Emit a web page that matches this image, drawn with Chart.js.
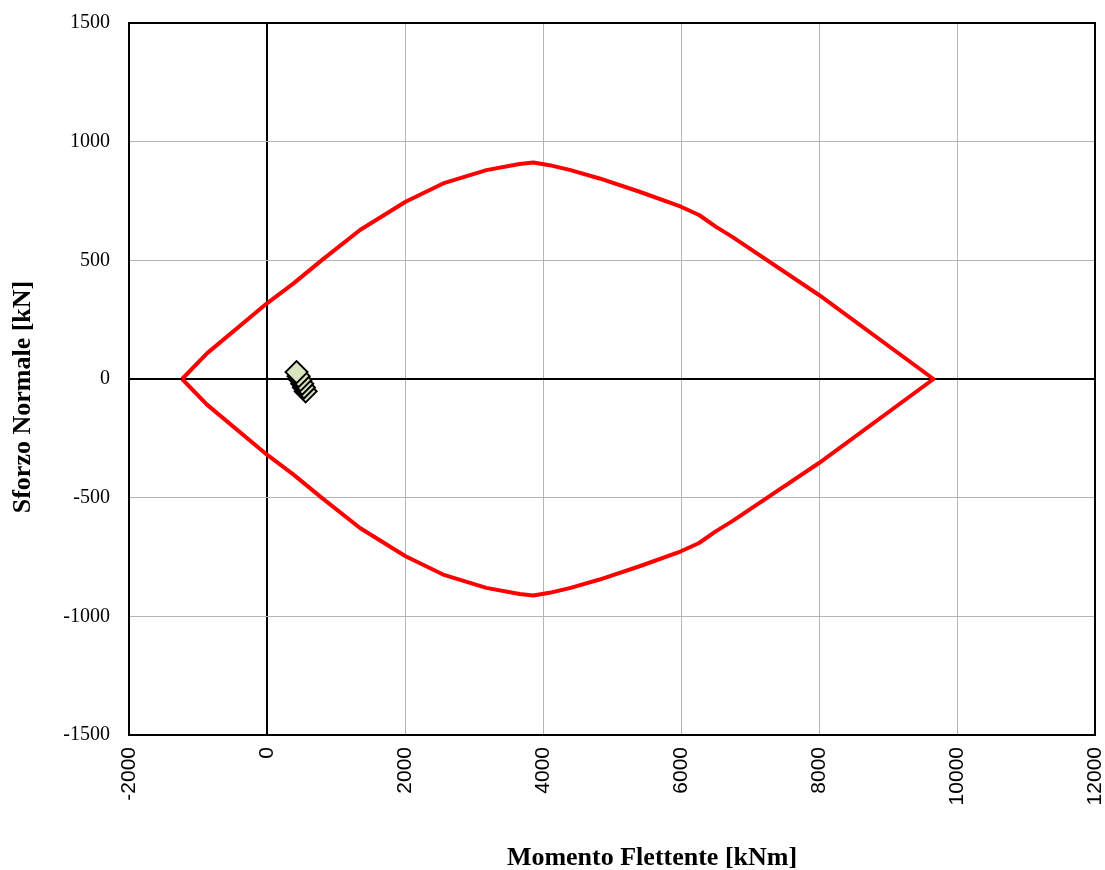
<!DOCTYPE html>
<html>
<head>
<meta charset="utf-8">
<script src="https://cdn.jsdelivr.net/npm/chart.js@4"></script>
<style>
  body { margin: 0; background: #fff; overflow: hidden; }
  #wrap { width: 1108px; height: 870px; }
</style>
</head>
<body>
<div id="wrap"><canvas id="chart"></canvas></div>
<script>
// Dominio di resistenza M-N: upper branch left to right, then lower branch back
const domainM = [-1230, -870, 0, 385, 795, 1348, 2008, 2552, 3179, 3660, 3860, 4094, 4400, 4820, 5400, 6000, 6262, 6503, 6744, 8000, 9660,
                 8000, 6744, 6503, 6262, 6000, 5400, 4820, 4400, 4094, 3860, 3660, 3179, 2552, 2008, 1348, 795, 385, 0, -870, -1230];
const domainN = [0, 108, 319, 403, 501, 628, 747, 824, 880, 906, 912, 901, 880, 845, 789, 726, 691, 642, 599, 354, 0,
                 -354, -599, -642, -691, -726, -789, -845, -880, -901, -912, -906, -880, -824, -747, -628, -501, -403, -319, -108, 0];

// Sollecitazioni di verifica (drawn bottom first so the top one lies above)
const loadM = [560, 535, 510, 485, 458, 428];
const loadN = [-52, -36, -20, -4, 12, 29];

const xTitle = 'Momento Flettente [kNm]';
const yTitle = 'Sforzo Normale [kN]';

const toPoints = (xs, ys) => xs.map((x, i) => ({ x: x, y: ys[i] }));

// frame round the plot area and the two axis titles
const framePlugin = {
    id: 'frame',
    afterDraw(chart) {
        const ctx = chart.ctx;
        const a = chart.chartArea;
        ctx.save();
        ctx.strokeStyle = '#000';
        ctx.lineWidth = 2;
        ctx.strokeRect(a.left, a.top, a.right - a.left, a.bottom - a.top);

        ctx.fillStyle = '#000';
        ctx.font = 'bold 26px "Liberation Serif", "Times New Roman", serif';
        ctx.textAlign = 'center';
        ctx.textBaseline = 'middle';
        ctx.fillText(xTitle, 652, 858);

        ctx.translate(23, 397);
        ctx.rotate(-Math.PI / 2);
        ctx.fillText(yTitle, 0, 0);
        ctx.restore();
    }
};

const gridColor = ctx => ctx.tick && ctx.tick.value === 0 ? '#000' : '#b4b4b4';
const gridWidth = ctx => ctx.tick && ctx.tick.value === 0 ? 2 : 1;

new Chart(document.getElementById('chart'), {
    type: 'scatter',
    data: {
        datasets: [{
            label: 'Dominio',
            data: toPoints(domainM, domainN),
            showLine: true,
            borderColor: '#ff0000',
            borderWidth: 4,
            borderJoinStyle: 'round',
            pointRadius: 0,
            tension: 0,
            order: 2
        }, {
            label: 'Sollecitazioni',
            data: toPoints(loadM, loadN),
            showLine: false,
            pointStyle: 'rectRot',
            pointRadius: 11,
            pointBackgroundColor: '#d8e4bc',
            pointBorderColor: '#000',
            pointBorderWidth: 2,
            order: 1
        }]
    },
    options: {
        responsive: true,
        maintainAspectRatio: false,
        animation: false,
        layout: { padding: { top: 23, right: 10, bottom: 0, left: 0 } },
        plugins: {
            legend: { display: false },
            tooltip: { enabled: false }
        },
        scales: {
            x: {
                type: 'linear',
                min: -2000,
                max: 12000,
                afterFit(scale) {
                    scale.height = 135;
                    scale.paddingLeft = 0;
                    scale.paddingRight = 0;
                },
                ticks: {
                    stepSize: 2000,
                    minRotation: 90,
                    maxRotation: 90,
                    padding: 12,
                    color: '#000',
                    callback: v => String(v),
                    font: { family: '"Liberation Sans", Arial, sans-serif', size: 21 }
                },
                grid: { color: gridColor, lineWidth: gridWidth, drawTicks: false },
                border: { display: false }
            },
            y: {
                type: 'linear',
                min: -1500,
                max: 1500,
                afterFit(scale) {
                    scale.width = 129;
                    scale.paddingTop = 0;
                    scale.paddingBottom = 0;
                },
                ticks: {
                    stepSize: 500,
                    padding: 19,
                    color: '#000',
                    callback: v => String(v),
                    font: { family: '"Liberation Serif", "Times New Roman", serif', size: 20 }
                },
                grid: { color: gridColor, lineWidth: gridWidth, drawTicks: false },
                border: { display: false }
            }
        }
    },
    plugins: [framePlugin]
});
</script>
</body>
</html>
